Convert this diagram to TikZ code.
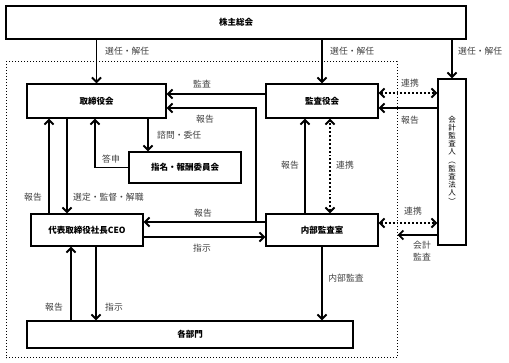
\documentclass[tikz,border=0pt]{standalone}
\usepackage{fontspec}
\newfontfamily\jp{Noto Sans CJK JP}
\usetikzlibrary{arrows.meta}
\tikzset{
  box/.style={draw, line width=1.4pt, fill=white, inner sep=0pt, font=\jp\fontsize{8.5}{10}\selectfont\bfseries},
  arr/.style={line width=1.9pt, -{Straight Barb[length=4.5pt,width=9pt]}},
  darr/.style={line width=1.9pt, dotted, {Straight Barb[length=4.5pt,width=9pt]}-{Straight Barb[length=4.5pt,width=9pt]}},
  lbl/.style={font=\jp\fontsize{8.8}{10}\selectfont, text=black!75, inner sep=0pt},
  bound/.style={draw, dotted, line width=1pt, inner sep=0pt}
}
\begin{document}
\begin{tikzpicture}[x=1pt,y=-1pt]
\useasboundingbox (0,0) rectangle (509,363);
\node[bound, minimum width=391pt, minimum height=296pt] (bnd) at (201.5,210) {};
\node[box, minimum width=460pt, minimum height=33pt] (sh) at (236,22.5) {株主総会};
\node[box, minimum width=139pt, minimum height=34pt] (tb) at (96.5,101) {取締役会};
\node[box, minimum width=112pt, minimum height=34pt] (ka) at (322,101) {監査役会};
\node[box, minimum width=28pt, minimum height=166pt] (kai) at (452,162) {};
\node[font=\jp\fontsize{7.5}{8.2}\selectfont, align=center, inner sep=0pt] (kait) at (452,160) {会\\計\\監\\査\\人\\︵\\監\\査\\法\\人\\︶};
\node[box, minimum width=112pt, minimum height=31pt] (sm) at (185,167.5) {指名・報酬委員会};
\node[box, minimum width=112pt, minimum height=32pt] (ceo) at (87,230) {代表取締役社長CEO};
\node[box, minimum width=112pt, minimum height=32pt] (na) at (322,230) {内部監査室};
\node[box, minimum width=326pt, minimum height=27pt] (bu) at (190,334.5) {各部門};

% shareholders
\draw[arr] (tb.north |- sh.south) -- (tb.north);
\draw[arr] (ka.north |- sh.south) -- (ka.north);
\draw[arr] (kai.north |- sh.south) -- (kai.north);
\node[lbl, anchor=west] (l1) at (105,51) {選任・解任};
\node[lbl, anchor=west] (l2) at (330,51) {選任・解任};
\node[lbl, anchor=west] (l3) at (458,51) {選任・解任};

% audit board -> board
\draw[arr] ([yshift=7pt]ka.west) -- ([yshift=7pt]tb.east);
\node[lbl] (l4) at (202,84) {監査};
% internal audit reports
\coordinate (j) at (256,222);
\draw[arr] ([yshift=8pt]na.west) -- ([yshift=8pt]ceo.east);
\draw[arr] (j) |- ([yshift=-7pt]tb.east);
\node[lbl] (l5) at (205,119) {報告};
\node[lbl] (l6) at (203,213) {報告};

% audit board <-> auditor
\draw[darr] ([yshift=8pt]ka.east) -- ([yshift=8pt]ka.east -| kai.west);
\node[lbl] (l7) at (410,83) {連携};
\draw[arr] ([yshift=-7pt]ka.east -| kai.west) -- ([yshift=-7pt]ka.east);
\node[lbl] (l8) at (410,120) {報告};

% board <-> CEO
\draw[arr] ([xshift=-38pt]ceo.north) -- ([xshift=-38pt]ceo.north |- tb.south);
\node[lbl] (l9) at (33,197) {報告};
\draw[arr] ([xshift=-20pt]ceo.north |- tb.south) -- ([xshift=-20pt]ceo.north);
\node[lbl, anchor=west] (l10) at (73,197) {選定・監督・解職};

% committee
\draw[arr] (sm.west) -| ([xshift=-1.5pt]tb.south);
\node[lbl] (l11) at (111,159) {答申};
\draw[arr] ([xshift=-37pt]sm.north |- tb.south) -- ([xshift=-37pt]sm.north);
\node[lbl, anchor=west] (l12) at (157,135) {諮問・委任};

% CEO -> internal audit
\draw[arr] ([yshift=-7pt]ceo.east) -- ([yshift=-7pt]ceo.east -| na.west);
\node[lbl] (l13) at (202,248) {指示};

% internal audit <-> audit board
\draw[arr] ([xshift=-17pt]na.north) -- ([xshift=-17pt]na.north |- ka.south);
\node[lbl] (l14) at (290,165) {報告};
\draw[darr] ([xshift=8pt]na.north) -- ([xshift=8pt]na.north |- ka.south);
\node[lbl] (l15) at (345,165) {連携};

% internal audit <-> auditor
\draw[darr] ([yshift=7pt]na.east) -- ([yshift=7pt]na.east -| kai.west);
\node[lbl] (l16) at (413,211) {連携};
\draw[arr] ([yshift=-5pt]na.east -| kai.west) -- ([yshift=-5pt]na.east -| bnd.east);
\node[lbl] (l17) at (422,245) {会計};
\node[lbl] (l18) at (422,257) {監査};

% CEO <-> departments
\draw[arr] ([xshift=-16pt]ceo.south |- bu.north) -- ([xshift=-16pt]ceo.south);
\node[lbl] (l19) at (54,307) {報告};
\draw[arr] ([xshift=9pt]ceo.south) -- ([xshift=9pt]ceo.south |- bu.north);
\node[lbl] (l20) at (114,307) {指示};
\draw[arr] (na.south) -- (na.south |- bu.north);
\node[lbl] (l21) at (346,278) {内部監査};
\end{tikzpicture}
\end{document}
